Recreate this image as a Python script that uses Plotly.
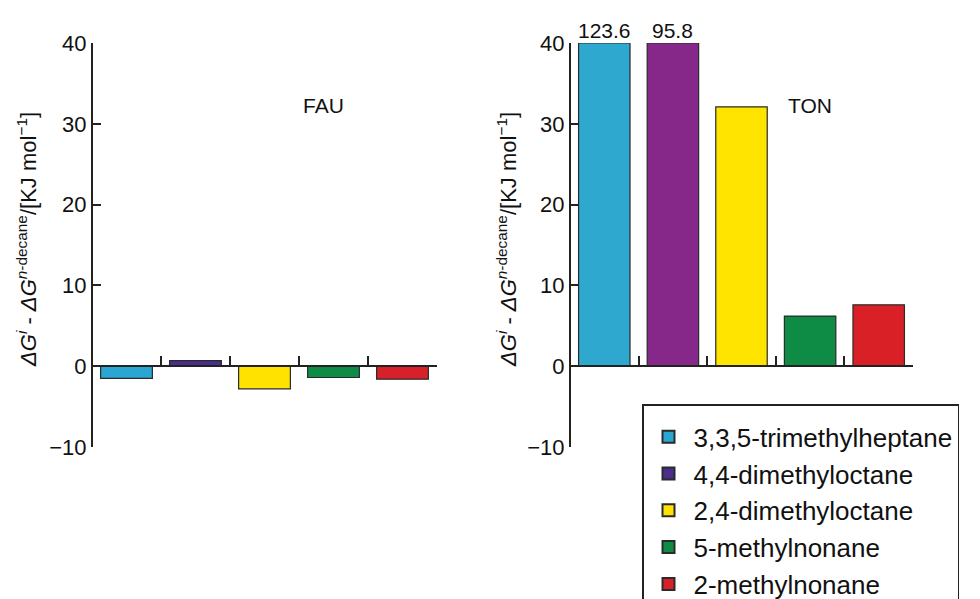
import plotly.graph_objects as go

categories = ["3,3,5-trimethylheptane", "4,4-dimethyloctane", "2,4-dimethyloctane",
              "5-methylnonane", "2-methylnonane"]
fau_values = [-1.5, 0.7, -2.8, -1.4, -1.6]
ton_values = [123.6, 95.8, 32.1, 6.2, 7.6]
y_tick_values = [-10, 0, 10, 20, 30, 40]
panel_labels = ["FAU", "TON"]

fau_colors = ["#2BA6D2", "#4B2D8E", "#FFE200", "#0E8C45", "#D7202A"]
ton_colors = ["#2EA8CF", "#86288A", "#FFE400", "#0E8C45", "#D92027"]

# page body has an 8px default margin; the figure is made a little taller than the
# 980x599 view so the legend box runs off the bottom edge as in the original
OFF = 8
W, H = 1010, 660


def px(x):
    return (x - OFF) / W


def py(y):
    return (H - (y - OFF)) / H


YMIN, YMAX = y_tick_values[0], y_tick_values[-1]
ydom = [py(447), py(43)]
x1dom = [px(92), px(437)]
x2dom = [px(570), px(913)]
zero_pos = ydom[0] + (0 - YMIN) / (YMAX - YMIN) * (ydom[1] - ydom[0])

FONT = "Liberation Sans, Arial, Helvetica, sans-serif"
fig = go.Figure()

for i, c in enumerate(categories):
    fig.add_trace(go.Bar(
        x=[c], y=[fau_values[i]], name=c, width=0.75,
        marker=dict(color=fau_colors[i], line=dict(color="#2a2a2a", width=1.2)),
        xaxis="x", yaxis="y", legendgroup=c, showlegend=True))
for i, c in enumerate(categories):
    shown = min(ton_values[i], YMAX)
    fig.add_trace(go.Bar(
        x=[c], y=[shown], name=c, width=0.75,
        marker=dict(color=ton_colors[i], line=dict(color="#2a2a2a", width=1.2)),
        xaxis="x2", yaxis="y2", legendgroup=c, showlegend=False))

annotations = []
for i, c in enumerate(categories):
    if ton_values[i] > YMAX:
        annotations.append(dict(x=c, y=YMAX, xref="x2", yref="y2", text=f"{ton_values[i]}",
                                showarrow=False, xanchor="center", yanchor="bottom", yshift=-1,
                                font=dict(size=21, color="#111", family=FONT)))

ytitle = ("<i>Δ</i><i>G</i><sup><i>i</i></sup> - <i>ΔG</i><sup><i>n</i>-decane</sup>"
          "/[KJ mol<sup>−1</sup>]")
for xp in [px(27), px(507)]:
    annotations.append(dict(x=xp, y=py(240), xref="paper", yref="paper", text=ytitle,
                            textangle=-90, showarrow=False, xanchor="center", yanchor="middle",
                            font=dict(size=22, color="#111", family=FONT)))
annotations.append(dict(x=px(323), y=py(105), xref="paper", yref="paper", text=panel_labels[0],
                        showarrow=False, xanchor="center", yanchor="middle",
                        font=dict(size=21, color="#111", family=FONT)))
annotations.append(dict(x=px(810), y=py(106), xref="paper", yref="paper", text=panel_labels[1],
                        showarrow=False, xanchor="center", yanchor="middle",
                        font=dict(size=21, color="#111", family=FONT)))

xaxis_common = dict(type="category", categoryorder="array", categoryarray=categories,
                    showline=True, linecolor="#222", linewidth=2, ticks="inside",
                    tickson="boundaries", ticklen=9, tickwidth=2, tickcolor="#222",
                    showticklabels=False, showgrid=False, zeroline=False,
                    anchor="free", position=zero_pos, automargin=False)
yaxis_common = dict(range=[YMIN, YMAX], tickvals=y_tick_values, ticks="inside", ticklen=8,
                    tickwidth=2, tickcolor="#222", showline=True, linecolor="#222", linewidth=2,
                    showgrid=False, zeroline=False, domain=ydom, anchor="free", automargin=False,
                    tickfont=dict(size=22, color="#111", family=FONT))

fig.update_layout(
    width=W, height=H, margin=dict(l=0, r=0, t=0, b=0, pad=0),
    paper_bgcolor="white", plot_bgcolor="white",
    barmode="overlay",
    font=dict(family=FONT, color="#111"),
    xaxis=dict(domain=x1dom, **xaxis_common),
    xaxis2=dict(domain=x2dom, **xaxis_common),
    yaxis=dict(position=x1dom[0], **yaxis_common),
    yaxis2=dict(position=x2dom[0], **yaxis_common),
    annotations=annotations,
    showlegend=True,
    legend=dict(x=px(642), y=py(404), xanchor="left", yanchor="top",
                bordercolor="#222", borderwidth=1.5, bgcolor="white",
                font=dict(size=26, color="#111", family=FONT),
                title=dict(text=" ", font=dict(size=6)),
                traceorder="grouped", tracegroupgap=0, itemsizing="constant", itemwidth=40),
)

fig.write_html("out.html")
